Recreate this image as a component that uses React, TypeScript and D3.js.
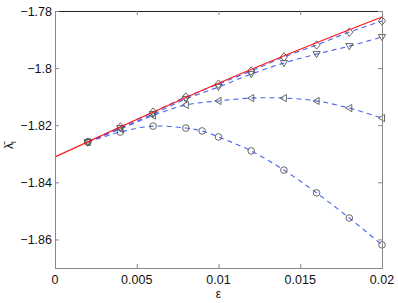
import React from "react";
import * as d3 from "d3";

// values
const epsRed = [0, 0.005, 0.01, 0.015, 0.02];
const lambdaRed = [-1.8311, -1.818, -1.8053, -1.7934, -1.7821];

const epsDiamond = [0.002, 0.004, 0.006, 0.008, 0.01, 0.012, 0.014, 0.016, 0.018, 0.02];
const lambdaDiamond = [-1.8259, -1.8206, -1.8154, -1.8101, -1.8056, -1.801, -1.7961, -1.7919, -1.7874, -1.7835];

const epsTriDown = [0.002, 0.004, 0.006, 0.008, 0.01, 0.012, 0.014, 0.016, 0.018, 0.02];
const lambdaTriDown = [-1.8259, -1.821, -1.8161, -1.8108, -1.8066, -1.8021, -1.7982, -1.7951, -1.7923, -1.7891];

const epsTriLeft = [0.002, 0.004, 0.006, 0.008, 0.01, 0.012, 0.014, 0.016, 0.018, 0.02];
const lambdaTriLeft = [-1.8259, -1.8213, -1.8166, -1.8129, -1.8115, -1.8105, -1.8105, -1.8115, -1.814, -1.8175];

const epsCircle = [0.002, 0.004, 0.006, 0.008, 0.009, 0.01, 0.012, 0.014, 0.016, 0.018, 0.02];
const lambdaCircle = [-1.8259, -1.8224, -1.8203, -1.821, -1.822, -1.8241, -1.829, -1.8357, -1.8437, -1.8525, -1.8619];

const xTicks = [0, 0.005, 0.01, 0.015, 0.02];
const xTickLabels = ["0", "0.005", "0.01", "0.015", "0.02"];
const yTicks = [-1.78, -1.8, -1.82, -1.84, -1.86];
const yTickLabels = ["\u22121.78", "\u22121.8", "\u22121.82", "\u22121.84", "\u22121.86"];

const W = 398;
const H = 303;
const margin = { left: 55, right: 16, top: 11, bottom: 35 };

const x = d3.scaleLinear().domain([0, 0.02]).range([margin.left, W - margin.right]);
const y = d3.scaleLinear().domain([-1.87, -1.78]).range([H - margin.bottom, margin.top]);

const zip = (xs: number[], ys: number[]) => xs.map((v, i) => [v, ys[i]] as [number, number]);

const smooth = d3
  .line<[number, number]>()
  .x(d => x(d[0]))
  .y(d => y(d[1]))
  .curve(d3.curveCatmullRom.alpha(0.5));

const blue = "#4a63f2";
const markColor = "#555";

function Marker({ kind, cx, cy }: { kind: string; cx: number; cy: number }) {
  const s = 3.6;
  const common = { fill: "none", stroke: markColor, strokeWidth: 0.9 };
  if (kind === "circle") return <circle cx={cx} cy={cy} r={3.3} {...common} />;
  if (kind === "diamond")
    return <path d={`M${cx},${cy - s - 0.6}L${cx + s},${cy}L${cx},${cy + s + 0.6}L${cx - s},${cy}Z`} {...common} />;
  if (kind === "triDown")
    return <path d={`M${cx - s},${cy - s * 0.7}L${cx + s},${cy - s * 0.7}L${cx},${cy + s}Z`} {...common} />;
  return <path d={`M${cx - s},${cy}L${cx + s * 0.7},${cy - s}L${cx + s * 0.7},${cy + s}Z`} {...common} />;
}

const series = [
  { kind: "circle", xs: epsCircle, ys: lambdaCircle },
  { kind: "triLeft", xs: epsTriLeft, ys: lambdaTriLeft },
  { kind: "triDown", xs: epsTriDown, ys: lambdaTriDown },
  { kind: "diamond", xs: epsDiamond, ys: lambdaDiamond },
];

export default function App() {
  const x0 = margin.left;
  const x1 = W - margin.right;
  const y0 = H - margin.bottom;
  const y1 = margin.top;
  const font = "'Liberation Sans', Arial, sans-serif";
  // red curve drawn from x=0
  const redLine = d3
    .line<[number, number]>()
    .x(d => x(d[0]))
    .y(d => y(d[1]))
    .curve(d3.curveMonotoneX);

  return (
    <svg
      width={W}
      height={H}
      style={{ position: "absolute", left: 0, top: 0, background: "#fff", fontFamily: font }}
    >
      {/* dashed fits */}
      {series.map(s => (
        <path
          key={s.kind + "-line"}
          d={smooth(zip(s.xs, s.ys)) || ""}
          fill="none"
          stroke={blue}
          strokeWidth={1.1}
          strokeDasharray="5,4"
        />
      ))}
      {/* markers */}
      {series.map(s =>
        s.xs.map((v, i) => <Marker key={s.kind + i} kind={s.kind} cx={x(v)} cy={y(s.ys[i])} />)
      )}
      <path d={redLine(zip(epsRed, lambdaRed)) || ""} fill="none" stroke="#ff1a1a" strokeWidth={1.3} />

      {/* frame */}
      <line x1={x0} x2={x1} y1={y1 + 0.5} y2={y1 + 0.5} stroke="#222" strokeWidth={1} />
      <line x1={x1 + 0.5} x2={x1 + 0.5} y1={y1} y2={y0} stroke="#888" strokeWidth={1} />
      <line x1={x0 + 0.5} x2={x0 + 0.5} y1={y1} y2={y0} stroke="#888" strokeWidth={1} />
      <line x1={x0} x2={x1 + 1} y1={y0 + 0.5} y2={y0 + 0.5} stroke="#888" strokeWidth={1} />

      {/* x ticks */}
      {xTicks.map((t, i) => (
        <g key={"xt" + i}>
          <line x1={x(t) + 0.5} x2={x(t) + 0.5} y1={y0} y2={y0 - 4} stroke="#888" />
          <line x1={x(t) + 0.5} x2={x(t) + 0.5} y1={y1} y2={y1 + 4} stroke="#888" />
          <text x={x(t)} y={y0 + 16} fontSize={12.5} textAnchor="middle" fill="#111">
            {xTickLabels[i]}
          </text>
        </g>
      ))}
      {/* y ticks */}
      {yTicks.map((t, i) => (
        <g key={"yt" + i}>
          <line x1={x0} x2={x0 + 4} y1={y(t) + 0.5} y2={y(t) + 0.5} stroke="#888" />
          <line x1={x1} x2={x1 - 4} y1={y(t) + 0.5} y2={y(t) + 0.5} stroke="#888" />
          <text x={x0 - 3} y={y(t) + 4.5} fontSize={12.5} textAnchor="end" fill="#111">
            {yTickLabels[i]}
          </text>
        </g>
      ))}

      <text x={(x0 + x1) / 2} y={H - 5} fontSize={12} textAnchor="middle" fill="#111">
        ε
      </text>
      <text transform="translate(13,145) rotate(-90)" fontSize={12} textAnchor="middle" fill="#111">
        λ̄<tspan fontSize={8} dy={3}>I</tspan>
      </text>
    </svg>
  );
}
